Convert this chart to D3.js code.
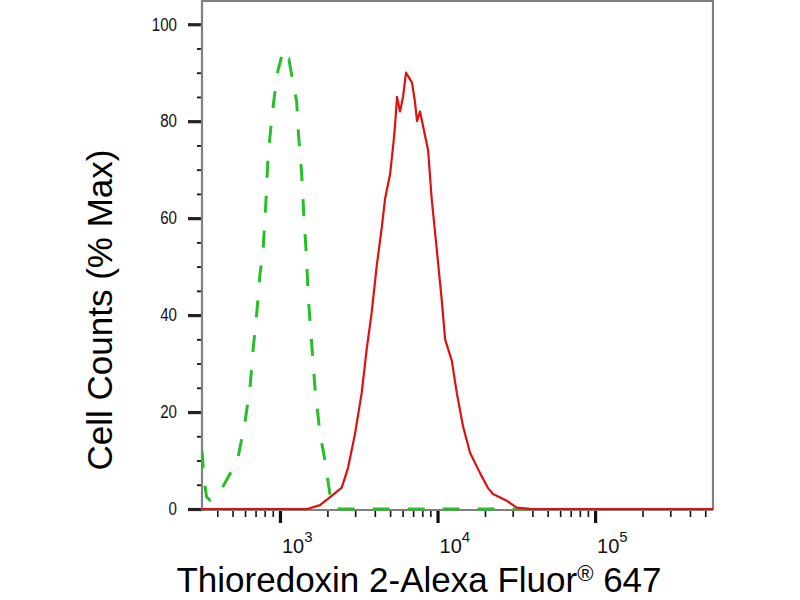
<!DOCTYPE html>
<html>
<head>
<meta charset="utf-8">
<script src="https://cdn.jsdelivr.net/npm/d3@7"></script>
<style>
  body { margin: 0; background: #fff; }
  svg { display: block; }
  .narrow { font-family: "Liberation Sans Narrow", "Arial Narrow", "Liberation Sans", Arial, sans-serif; }
  .title { font-family: "Liberation Sans", Arial, sans-serif; }
</style>
</head>
<body>
<svg width="800" height="600"></svg>
<script>
'use strict';

// data (fluorescence value, % max)
const greenX = [320, 330, 342, 360, 385, 416, 481, 541, 600, 645, 674, 715, 747, 780, 815, 839, 889, 929, 971,
  1025, 1060, 1103, 1141, 1210, 1277, 1301, 1374, 1420, 1480, 1507, 1590, 1668, 1795, 1931, 2076, 2171, 2404, 38600];
const greenY = [12, 6, 2.5, 1.8, 2.2, 3.5, 7.2, 10.5, 18, 25, 32.6, 41, 48.5, 53, 63.6, 72.5, 81, 86, 90.5,
  93.4, 94, 92, 92.6, 88, 84, 78.7, 69, 60, 51, 44.4, 34, 25, 15.5, 10, 3, 0.3, 0, 0];

const redX = [320, 1484, 1795, 2128, 2466, 2704, 2994, 3302, 3551, 3819, 4107, 4423, 4645, 4994, 5250, 5370, 5530,
  5780, 6040, 6310, 6590, 6880, 7190, 7410, 7740, 8090, 8710, 9180, 9890, 10640, 11170, 12310, 13240, 14520,
  16080, 18610, 20930, 22500, 27480, 31840, 38640, 560000];
const redY = [0, 0, 0.8, 2.7, 4.4, 8.5, 15.5, 24, 33, 40.5, 50, 58, 64, 69, 75.5, 79, 85,
  82, 85, 90, 89, 88, 84, 80, 82, 79, 74, 64, 53.5, 43, 35, 30.6, 24, 17,
  11.6, 7.4, 4.3, 3.1, 1.7, 0.3, 0, 0];

const yMajorTicks = [0, 20, 40, 60, 80, 100];
const yMinorTicks = [5, 10, 15, 25, 30, 35, 45, 50, 55, 65, 70, 75, 85, 90, 95];
const xMajorTicks = [1e3, 1e4, 1e5];
const xMajorExp = ['3', '4', '5'];
const xMinorTicks = [400, 500, 600, 700, 800, 900,
  2000, 3000, 4000, 5000, 6000, 7000, 8000, 9000,
  20000, 30000, 40000, 50000, 60000, 70000, 80000, 90000,
  200000, 300000, 400000, 500000];

const svg = d3.select('svg');
const plotLeft = 202, plotRight = 713, plotTop = 1, plotBottom = 509;

const x = d3.scaleLog().domain([320, 560000]).range([plotLeft, plotRight]);
const y = d3.scaleLinear().domain([0, 105]).range([plotBottom, 0]);

svg.append('clipPath').attr('id', 'plot')
  .append('rect').attr('x', plotLeft).attr('y', 0)
  .attr('width', plotRight - plotLeft).attr('height', plotBottom + 2);

// x axis: minor then major ticks
const xAxisMinor = d3.axisBottom(x).tickValues(xMinorTicks).tickSize(7).tickFormat('');
const xAxisMajor = d3.axisBottom(x).tickValues(xMajorTicks).tickSize(13).tickFormat('');
svg.append('g').attr('transform', `translate(0,${plotBottom + 1})`).call(xAxisMinor)
  .call(g => g.select('.domain').remove())
  .selectAll('.tick line').attr('stroke', '#111').attr('stroke-width', 1.6);
svg.append('g').attr('transform', `translate(0,${plotBottom + 1})`).call(xAxisMajor)
  .call(g => g.select('.domain').remove())
  .selectAll('.tick line').attr('stroke', '#111').attr('stroke-width', 3.2);

const xl = svg.append('g').attr('class', 'narrow').selectAll('text')
  .data(xMajorTicks).enter().append('text')
  .attr('x', d => x(d) + 2).attr('y', 553)
  .attr('font-size', 20).attr('fill', '#111');
xl.append('tspan').text('10');
xl.append('tspan').text((d, i) => xMajorExp[i]).attr('font-size', 15).attr('dy', -11);

// y axis: minor then major ticks
const yAxisMinor = d3.axisLeft(y).tickValues(yMinorTicks).tickSize(5).tickFormat('');
const yAxisMajor = d3.axisLeft(y).tickValues(yMajorTicks).tickSize(14).tickPadding(11);
svg.append('g').attr('transform', `translate(${plotLeft},0)`).call(yAxisMinor)
  .call(g => g.select('.domain').remove())
  .selectAll('.tick line').attr('stroke', '#111').attr('stroke-width', 1.8);
const ya = svg.append('g').attr('transform', `translate(${plotLeft},0)`).call(yAxisMajor)
  .call(g => g.select('.domain').remove());
ya.attr('font-family', null).attr('font-size', null);
ya.selectAll('.tick line').attr('stroke', '#222').attr('stroke-width', 3.2);
ya.selectAll('.tick text').attr('class', 'narrow').attr('font-size', 18).attr('fill', '#111')
  .attr('textLength', d => String(d).length * 8.4).attr('lengthAdjust', 'spacingAndGlyphs');

// frame
const frame = svg.append('g').attr('fill', 'none').attr('stroke', '#808080').attr('stroke-width', 2.2);
frame.append('line').attr('x1', plotLeft).attr('x2', plotLeft).attr('y1', 0).attr('y2', plotBottom + 1);
frame.append('line').attr('x1', plotLeft).attr('x2', plotRight).attr('y1', plotBottom + 1).attr('y2', plotBottom + 1);
frame.append('line').attr('x1', plotLeft).attr('x2', plotRight + 1).attr('y1', plotTop).attr('y2', plotTop);
frame.append('line').attr('x1', plotRight).attr('x2', plotRight).attr('y1', 0).attr('y2', plotBottom + 1);

// curves
const line = d3.line().x(d => x(d[0])).y(d => y(d[1]));
const plot = svg.append('g').attr('clip-path', 'url(#plot)');
plot.append('path')
  .datum(d3.zip(greenX, greenY))
  .attr('d', line)
  .attr('fill', 'none')
  .attr('stroke', '#26c026')
  .attr('stroke-width', 3)
  .attr('stroke-dasharray', '17,18');
plot.append('path')
  .datum(d3.zip(redX, redY))
  .attr('d', line)
  .attr('fill', 'none')
  .attr('stroke', '#e01010')
  .attr('stroke-width', 2.2)
  .attr('stroke-linejoin', 'round');

// axis titles
svg.append('text').attr('class', 'title')
  .attr('transform', 'translate(112,310) rotate(-90)')
  .attr('text-anchor', 'middle')
  .attr('font-size', 35).attr('fill', '#000')
  .text('Cell Counts (% Max)');

const xt = svg.append('text').attr('class', 'title')
  .attr('x', 419).attr('y', 592)
  .attr('text-anchor', 'middle')
  .attr('font-size', 35).attr('fill', '#000');
xt.append('tspan').text('Thioredoxin 2-Alexa Fluor');
xt.append('tspan').text('®').attr('font-size', 22).attr('dy', -11);
xt.append('tspan').text(' 647').attr('dy', 11);
</script>
</body>
</html>
